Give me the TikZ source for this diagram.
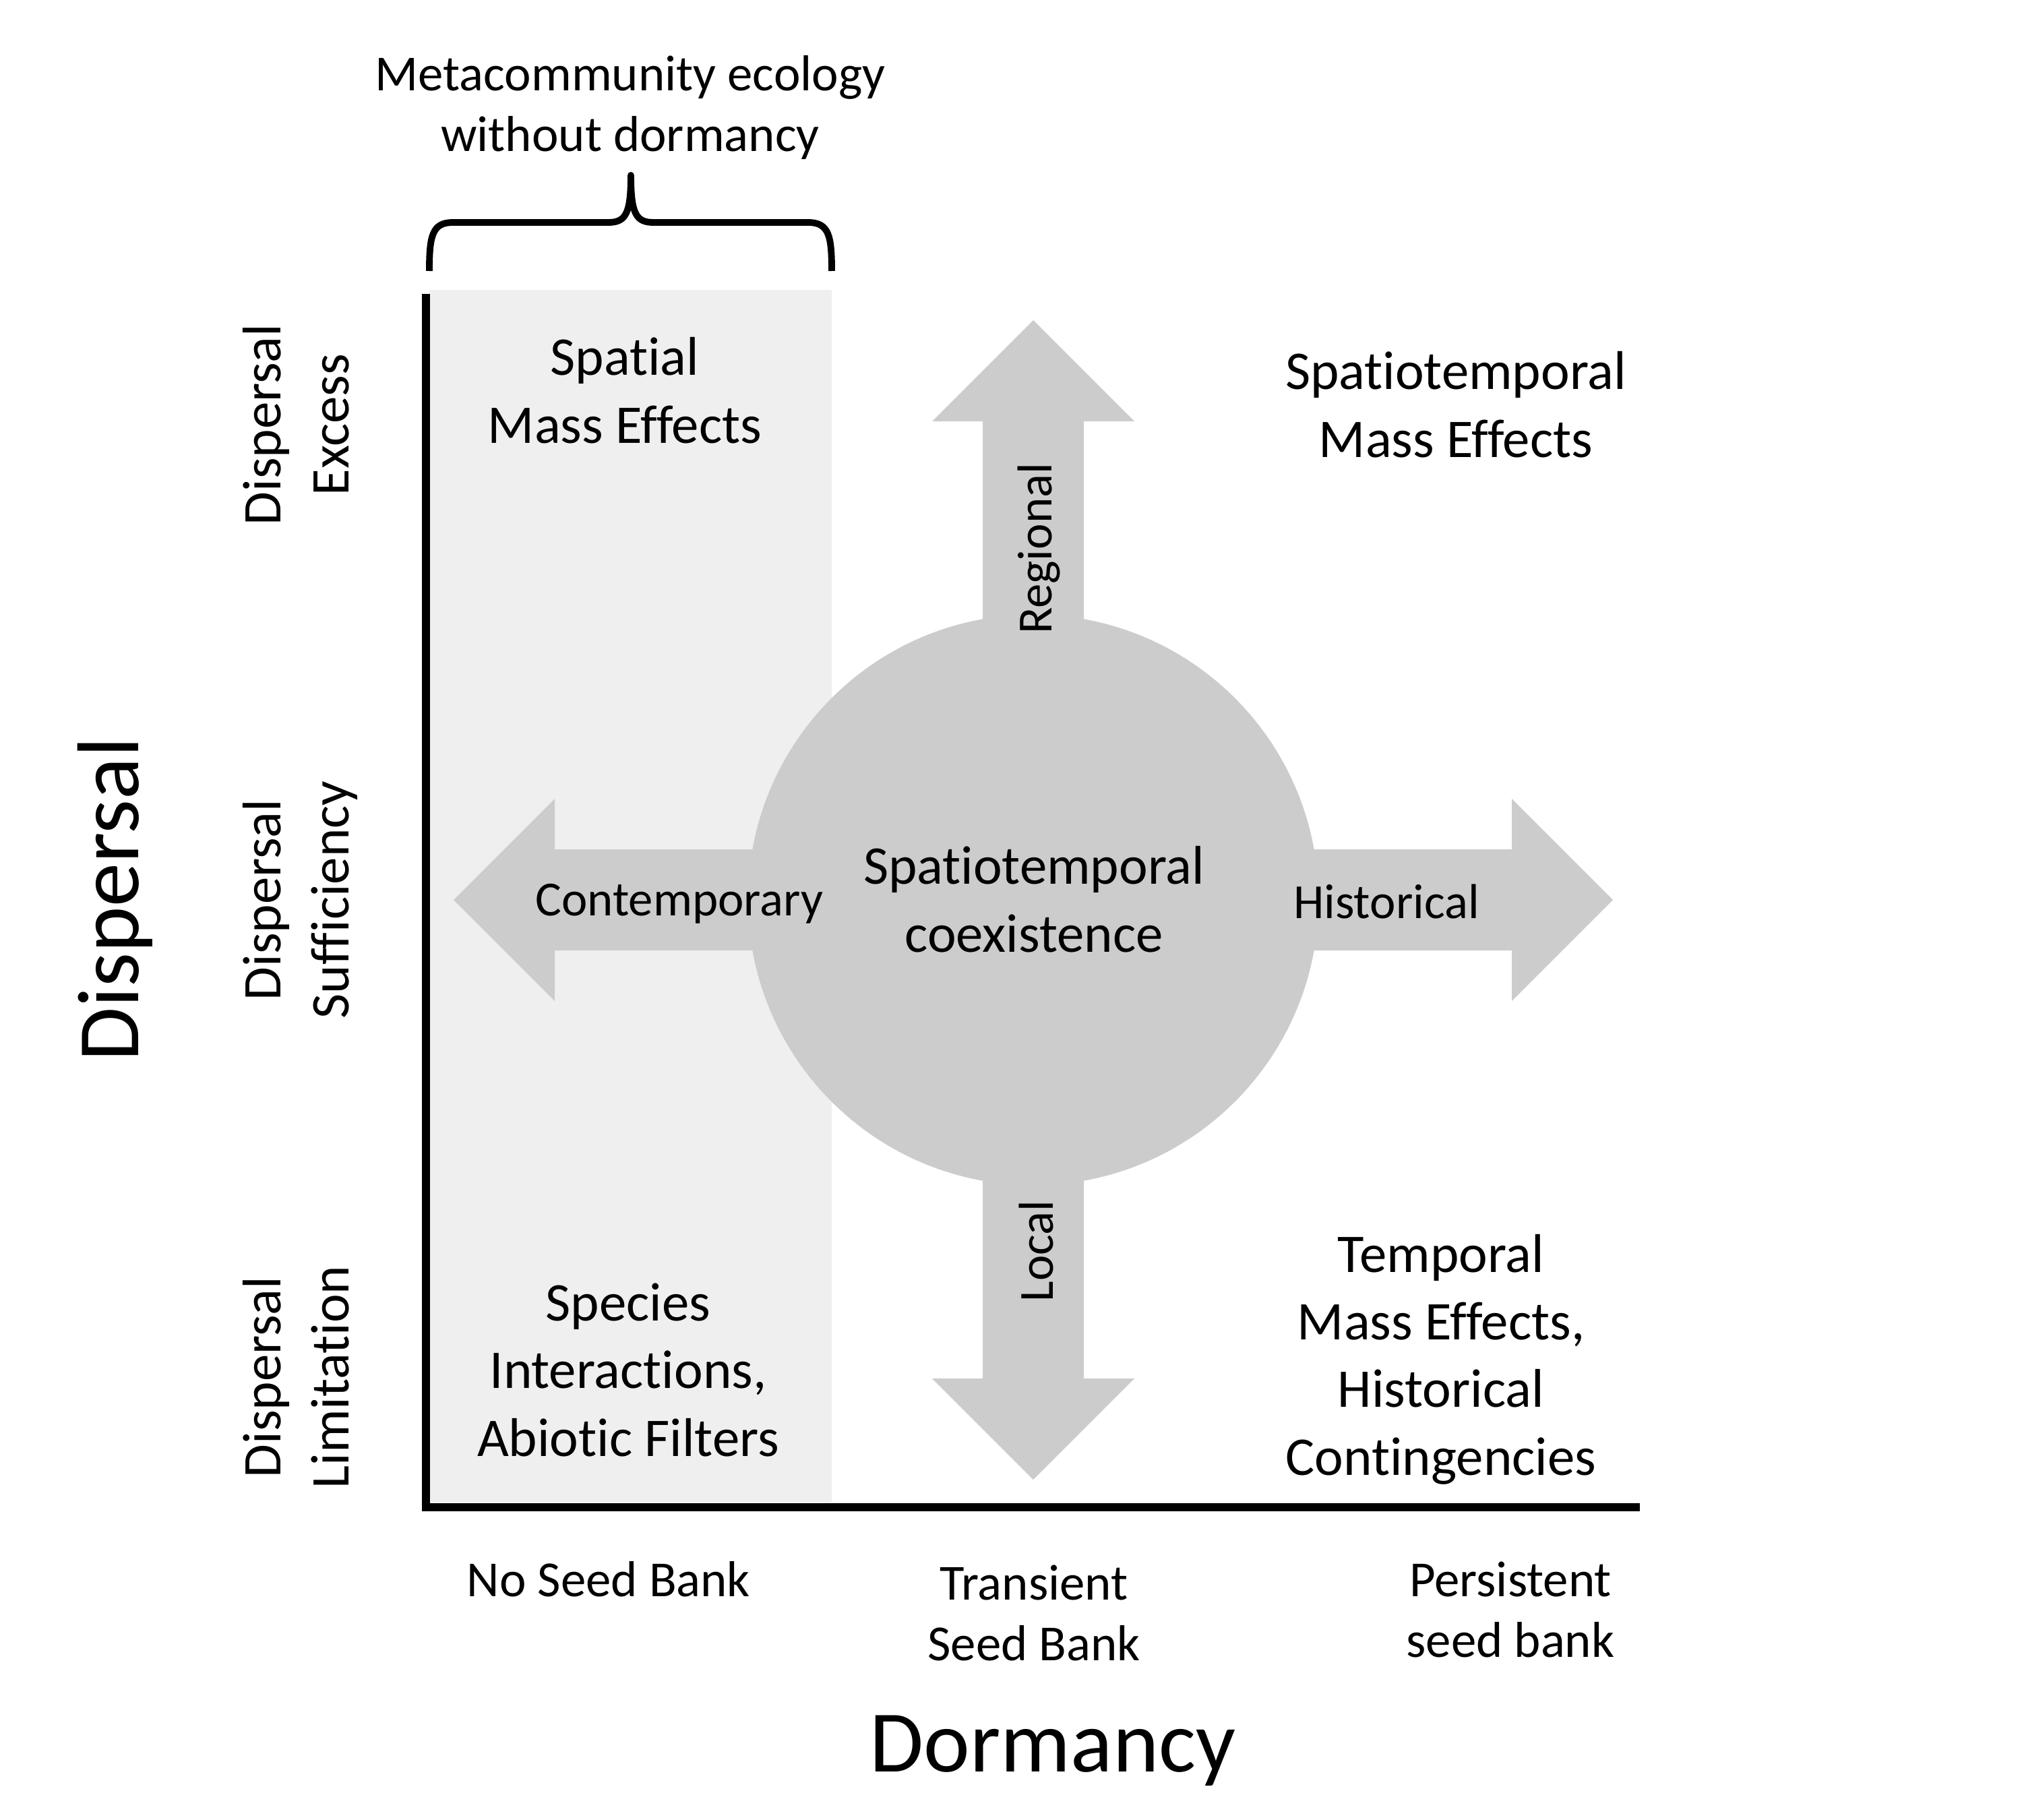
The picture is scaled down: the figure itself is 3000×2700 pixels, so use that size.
\documentclass[tikz,border=0pt]{standalone}
\usepackage{fontspec}
\setmainfont{Carlito}[Ligatures={NoCommon}]
\definecolor{shapegray}{RGB}{205,204,205}
\definecolor{bandgray}{RGB}{239,239,239}
\tikzset{
  lab/.style={inner sep=0pt, align=center, anchor=base, font=\fontsize{23}{28.45}\selectfont},
  smalllab/.style={inner sep=0pt, align=center, anchor=base, font=\fontsize{21.3}{25.6}\selectfont},
  arrlab/.style={inner sep=0pt, anchor=base, font=\fontsize{20.7}{24}\selectfont},
  biglab/.style={inner sep=0pt, anchor=base, font=\fontsize{37}{44}\selectfont},
  axisline/.style={line width=3.6pt},
  bracestroke/.style={line width=2.8pt, line join=round},
}
\begin{document}
\begin{tikzpicture}[x=0.01cm, y=-0.01cm]
\useasboundingbox (0,0) rectangle (3000,2700);
% shaded band
\fill[bandgray] (637,430) rectangle (1234,2229);
% central circle and arrows
\coordinate (C) at (1533,1335);
\begin{scope}[shift={(C)}]
  \fill[shapegray] (0,-860) -- (150,-710) -- (75,-710) -- (75,710) -- (150,710) -- (0,860)
    -- (-150,710) -- (-75,710) -- (-75,-710) -- (-150,-710) -- cycle;
  \fill[shapegray] (-860,0) -- (-710,-150) -- (-710,-75) -- (710,-75) -- (710,-150) -- (860,0)
    -- (710,150) -- (710,75) -- (-710,75) -- (-710,150) -- cycle;
\end{scope}
\node[circle, fill=shapegray, minimum size=8.46cm, inner sep=0pt] (core) at (C) {};
% axes
\coordinate (ytop) at (632,436);
\coordinate (origin) at (632,2236);
\coordinate (xend) at (2433,2236);
\draw[axisline] (ytop) -- (origin) -- (xend);
% brace
\coordinate (bl) at (637,402);
\coordinate (bt) at (936,260);
\coordinate (br) at (1234,402);
\draw[bracestroke] (bl) .. controls (637,350) and (641,330) .. (672,330) -- (902,330)
  .. controls (928,330) and (936,318) .. (bt) .. controls (936,318) and (944,330) .. (970,330)
  -- (1199,330) .. controls (1230,330) and (1234,350) .. (br);
% texts (anchor base = baseline of the last line)
\node[smalllab] (meta) at (935,225) {Metacommunity ecology\\without dormancy};
\node[lab] (spatial) at (927,657) {Spatial\\Mass Effects};
\node[lab] (stmass) at (2160,678) {Spatiotemporal\\Mass Effects};
\node[lab] (stcoex) at (1534,1412) {Spatiotemporal\\coexistence};
\node[lab] (species) at (932,2160) {Species\\Interactions,\\Abiotic Filters};
\node[lab] (temporal) at (2138,2188) {Temporal\\Mass Effects,\\Historical\\Contingencies};
\node[arrlab] (contemp) at (1008,1358) {Contemporary};
\node[arrlab] (hist) at (2057,1362) {Historical};
\node[arrlab, rotate=90] (regional) at (1560,814) {Regional};
\node[arrlab, rotate=90] (local) at (1562,1856) {Local};
\node[lab, rotate=90] (dexcess) at (517,630) {Dispersal\\Excess};
\node[lab, rotate=90] (dsuff) at (517,1335) {Dispersal\\Sufficiency};
\node[lab, rotate=90] (dlim) at (517,2043) {Dispersal\\Limitation};
\node[biglab, rotate=90] (dispersal) at (205,1334) {Dispersal};
\node[smalllab] (noseed) at (903,2368) {No Seed Bank};
\node[smalllab] (transient) at (1534,2463) {Transient\\Seed Bank};
\node[smalllab] (persistent) at (2241,2458) {Persistent\\seed bank};
\node[biglab] (dormancy) at (1562,2628) {Dormancy};
\end{tikzpicture}
\end{document}
